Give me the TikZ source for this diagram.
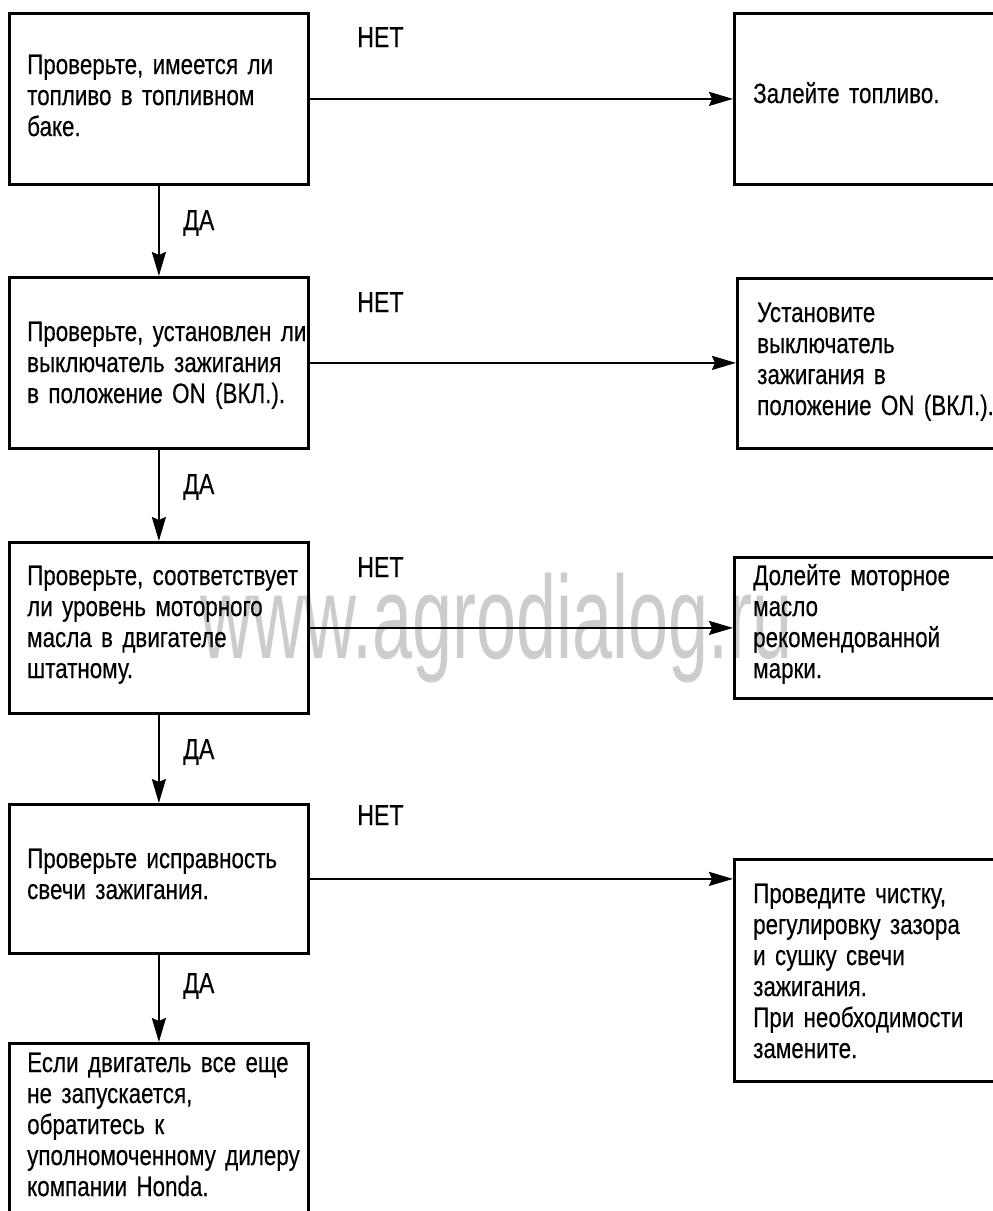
\documentclass[tikz,border=0pt]{standalone}
\usepackage{fontspec}
\setmainfont{Liberation Sans}[FakeStretch=0.80,WordSpace=0.75,FakeBold=0.3]
\newfontfamily\wmfont{Liberation Sans}[FakeStretch=0.61]
\usetikzlibrary{arrows.meta}
\begin{document}
\begin{tikzpicture}[x=1pt,y=-1pt,
  box/.style={draw, line width=2.8pt, rectangle, inner sep=0pt, anchor=north west},
  txt/.style={anchor=base west, inner sep=0pt, align=left, text width=300pt, font=\fontsize{28}{31}\selectfont},
  lbl/.style={anchor=base west, inner sep=0pt, font=\fontsize{29}{31}\selectfont},
  arr/.style={line width=2.2pt, -{Stealth[length=24pt,width=14pt,inset=3pt]}}
]
\useasboundingbox (0,0) rectangle (993,1211);
\clip (0,0) rectangle (993,1211);
\node[anchor=base west, inner sep=0pt, text=black!20, font=\wmfont\fontsize{118}{118}\selectfont] (wm) at (200,658) {www.agrodialog.ru};
% left column boxes
\node[box, minimum width=299pt, minimum height=171pt] (L1) at (8,12) {};
\node[box, minimum width=299pt, minimum height=171pt] (L2) at (8,276) {};
\node[box, minimum width=299pt, minimum height=171pt] (L3) at (8,541) {};
\node[box, minimum width=299pt, minimum height=149pt] (L4) at (8,803) {};
\node[box, minimum width=299pt, minimum height=300pt] (L5) at (8,1042) {};
% right column boxes
\node[box, minimum width=300pt, minimum height=171pt] (R1) at (733,12) {};
\node[box, minimum width=300pt, minimum height=170pt] (R2) at (736,277) {};
\node[box, minimum width=300pt, minimum height=141pt] (R3) at (733,556) {};
\node[box, minimum width=300pt, minimum height=222pt] (R4) at (733,858) {};
% texts
\node[txt] (T1) at (27,74) {Проверьте, имеется ли\\топливо в топливном\\баке.};
\node[txt] (T2) at (27,341) {Проверьте, установлен ли\\выключатель зажигания\\в положение ON (ВКЛ.).};
\node[txt] (T3) at (27,585) {Проверьте, соответствует\\ли уровень моторного\\масла в двигателе\\штатному.};
\node[txt] (T4) at (27,868) {Проверьте исправность\\свечи зажигания.};
\node[txt] (T5) at (27,1072) {Если двигатель все еще\\не запускается,\\обратитесь к\\уполномоченному дилеру\\компании Honda.};
\node[txt] (S1) at (753,103) {Залейте топливо.};
\node[txt] (S2) at (757,322) {Установите\\выключатель\\зажигания в\\положение ON (ВКЛ.).};
\node[txt] (S3) at (753,585) {Долейте моторное\\масло\\рекомендованной\\марки.};
\node[txt] (S4) at (753,903) {Проведите чистку,\\регулировку зазора\\и сушку свечи\\зажигания.\\При необходимости\\замените.};
% labels
\node[lbl] (N1) at (357,47) {НЕТ};
\node[lbl] (N2) at (357,312) {НЕТ};
\node[lbl] (N3) at (357,577) {НЕТ};
\node[lbl] (N4) at (357,825) {НЕТ};
\node[lbl] (D1) at (183,230) {ДА};
\node[lbl] (D2) at (183,494) {ДА};
\node[lbl] (D3) at (183,759) {ДА};
\node[lbl] (D4) at (183,993) {ДА};
% connectors
\draw[arr] (L1.east) -- (L1.east -| R1.west);
\draw[arr] (L2.east) -- (L2.east -| R2.west);
\draw[arr] (L3.east) -- (L3.east -| R3.west);
\draw[arr] (L4.east) -- (L4.east -| R4.west);
\draw[arr] (L1.south) -- (L2.north);
\draw[arr] (L2.south) -- (L3.north);
\draw[arr] (L3.south) -- (L4.north);
\draw[arr] (L4.south) -- (L5.north);
\end{tikzpicture}
\end{document}
